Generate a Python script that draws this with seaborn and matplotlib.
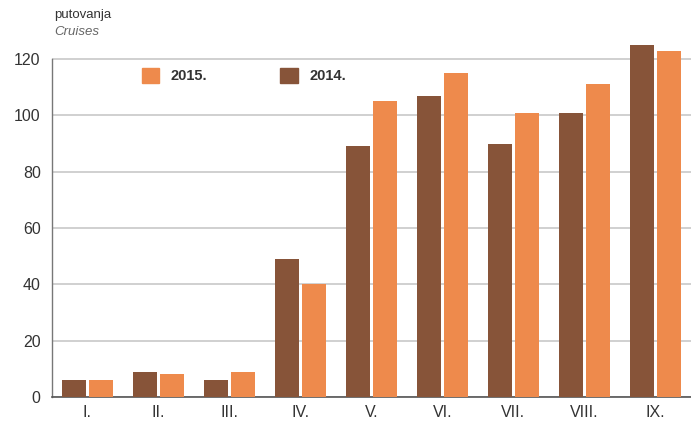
import matplotlib
matplotlib.use("Agg")
import matplotlib.pyplot as plt
import seaborn as sns
import pandas as pd

months = ["I.", "II.", "III.", "IV.", "V.", "VI.", "VII.", "VIII.", "IX."]
y2014 = [6, 9, 6, 49, 89, 107, 90, 101, 125]
y2015 = [6, 8, 9, 40, 105, 115, 101, 111, 123]
years = ["2014.", "2015."]
yticks = [0, 20, 40, 60, 80, 100, 120]

df = pd.DataFrame({
    "month": months * 2,
    "year": [years[0]] * len(months) + [years[1]] * len(months),
    "value": y2014 + y2015,
})

sns.set_style("white")
plt.rcParams['font.family'] = ['Liberation Sans', 'DejaVu Sans']

fig = plt.figure(figsize=(6.91, 4.25), dpi=100)
ax = fig.add_axes([0.075, 0.066, 0.925, 0.848])

palette = {"2014.": "#875439", "2015.": "#EE8A4C"}
sns.barplot(data=df, x="month", y="value", hue="year", hue_order=years,
            palette=palette, width=0.76, gap=0.1, saturation=1, ax=ax,
            legend=False, zorder=3, linewidth=0)

ax.set_xlim(-0.5, 8.5)
ax.set_ylim(0, 128)
ax.set_yticks(yticks)
ax.yaxis.grid(True, color="#c8c8c8", linewidth=1.2, zorder=0)
ax.set_axisbelow(True)
for s in ["top", "right"]:
    ax.spines[s].set_visible(False)
ax.spines["left"].set_color("#777777")
ax.spines["bottom"].set_color("#555555")
ax.spines["left"].set_linewidth(1)
ax.spines["left"].set_bounds(0, 120)
ax.spines["bottom"].set_linewidth(1.2)
ax.tick_params(axis="both", length=0, labelsize=11.5, colors="#333333")
ax.tick_params(axis="y", pad=8)
ax.tick_params(axis="x", pad=6)
ax.set_xlabel("")
ax.set_ylabel("")

from matplotlib.patches import Patch
handles = [Patch(color=palette["2015."], label="2015."),
           Patch(color=palette["2014."], label="2014.")]
leg = ax.legend(handles=handles, ncol=2, frameon=False, loc="upper left",
                bbox_to_anchor=(0.12, 0.95), handlelength=1.2, handleheight=1.2,
                columnspacing=5, prop={"weight": "bold", "size": 10.5})
for t in leg.get_texts():
    t.set_color("#333333")

fig.text(0.078, 0.965, "putovanja", fontsize=9.5, color="#333333", va="center")
fig.text(0.078, 0.925, "Cruises", fontsize=9.5, color="#666666", style="italic", va="center")

fig.savefig("out.png", dpi=100)
